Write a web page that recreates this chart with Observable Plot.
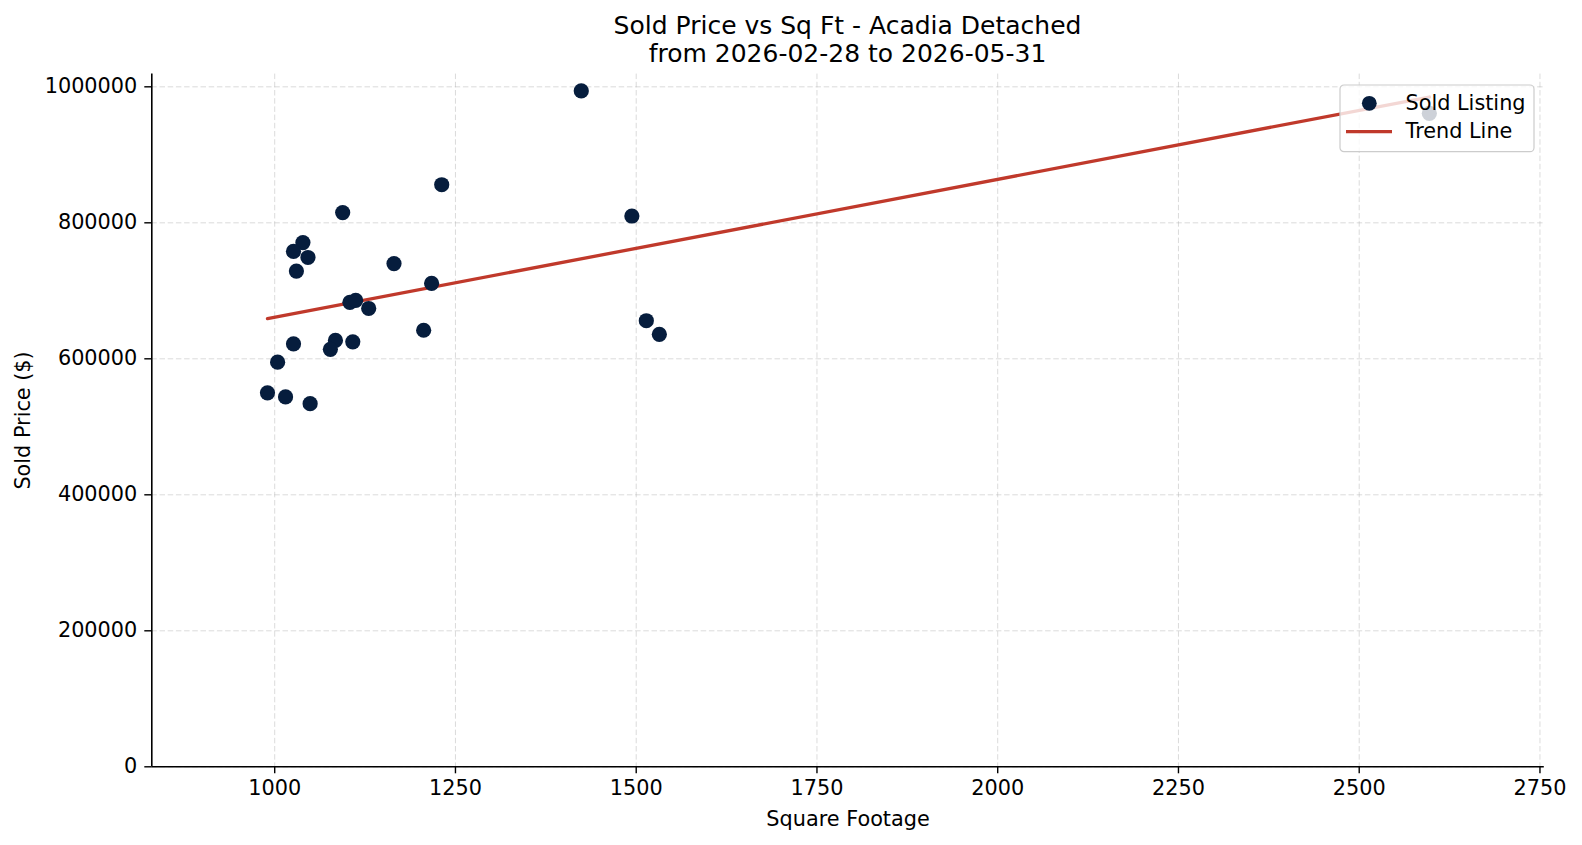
<!DOCTYPE html>
<html>
<head>
<meta charset="utf-8">
<script src="https://cdn.jsdelivr.net/npm/d3@7"></script>
<script src="https://cdn.jsdelivr.net/npm/@observablehq/plot@0.6"></script>
<style>
  body { margin: 0; background: #fff; font-family: "DejaVu Sans", sans-serif; }
  #wrap { position: relative; width: 1582px; height: 845px; overflow: hidden; }
  #title { position: absolute; left: 151px; width: 1393px; top: 11.6px; text-align: center;
           font-size: 25px; line-height: 28.2px; color: #000; }
  #legend { position: absolute; left: 1339px; top: 84px; }
</style>
</head>
<body>
<div id="wrap">
  <div id="chart"></div>
  <div id="title">Sold Price vs Sq Ft - Acadia Detached<br>from 2026-02-28 to 2026-05-31</div>
  <svg id="legend" width="198" height="70" xmlns="http://www.w3.org/2000/svg"></svg>
</div>
<script>
// ---- data ----
const sqft  = [1094, 1039, 1026, 1046, 1030, 1165, 1217, 1104, 1112, 1130, 1206, 1026, 1084,
               1077, 1108, 1004, 990, 1015, 1049, 1424, 1231, 1494, 1514, 1532, 2597];
const price = [815000, 771000, 758000, 749000, 729000, 740000, 711000, 683000, 686000, 674000,
               642000, 622000, 627000, 614000, 625000, 595000, 550000, 544000, 534000, 994000,
               856000, 810000, 656000, 636000, 961000];
const trendSqft  = [990, 2597];
const trendPrice = [659000, 985000];
const xTicks = [1000, 1250, 1500, 1750, 2000, 2250, 2500, 2750];
const yTicks = [0, 200000, 400000, 600000, 800000, 1000000];
const xDomain = [830, 2756];
const yDomain = [0, 1018700];
const seriesNames = ["Sold Listing", "Trend Line"];
const dotColor = "#061d3d";
const lineColor = "#c0392b";

const points = sqft.map((s, i) => ({sqft: s, price: price[i]}));
const trend = trendSqft.map((s, i) => ({sqft: s, price: trendPrice[i]}));

const fs = 20.8;
const gridStyle = {stroke: "#b0b0b0", strokeOpacity: 0.45, strokeWidth: 1, strokeDasharray: "5.5,2.7"};

const chart = Plot.plot({
  width: 1582,
  height: 845,
  marginLeft: 151.3,
  marginRight: 1582 - 1543.8,
  marginTop: 73.6,
  marginBottom: 845 - 766.3,
  style: {fontFamily: "DejaVu Sans", fontSize: fs + "px", color: "#000", background: "#fff"},
  x: {domain: xDomain},
  y: {domain: yDomain},
  marks: [
    Plot.gridX(xTicks, gridStyle),
    Plot.gridY(yTicks, gridStyle),
    Plot.axisX(xTicks, {tickSize: 7, tickPadding: 6, tickFormat: d => String(d), label: null,
                        fontSize: fs, stroke: "#000", strokeWidth: 1.4}),
    Plot.axisY(yTicks, {tickSize: 7, tickPadding: 7.5, tickFormat: d => String(d), label: null,
                        fontSize: fs, stroke: "#000", strokeWidth: 1.4}),
    Plot.ruleY([yDomain[0]], {stroke: "#000", strokeWidth: 1.6}),
    Plot.ruleX([xDomain[0]], {stroke: "#000", strokeWidth: 1.6}),
    Plot.line(trend, {x: "sqft", y: "price", stroke: lineColor, strokeWidth: 3.3}),
    Plot.dot(points, {x: "sqft", y: "price", r: 7.6, fill: dotColor, stroke: "none"}),
    Plot.text(["Square Footage"], {text: d => d, frameAnchor: "bottom", dy: 52.5,
                                   lineAnchor: "middle", textAnchor: "middle", fontSize: fs, fill: "#000"}),
    Plot.text(["Sold Price ($)"], {text: d => d, frameAnchor: "left", dx: -128, rotate: -90,
                                   lineAnchor: "middle", textAnchor: "middle", fontSize: fs, fill: "#000"})
  ]
});
document.getElementById("chart").appendChild(chart);

// ---- legend (semi-transparent box, like matplotlib) ----
const lg = d3.select("#legend");
lg.append("rect").attr("x", 1).attr("y", 1).attr("width", 194).attr("height", 66.7)
  .attr("rx", 4).attr("fill", "#fff").attr("fill-opacity", 0.8)
  .attr("stroke", "#cccccc").attr("stroke-width", 1.2);
lg.append("circle").attr("cx", 30.3).attr("cy", 19.3).attr("r", 7.4).attr("fill", dotColor);
lg.append("line").attr("x1", 7).attr("x2", 53).attr("y1", 47.7).attr("y2", 47.7)
  .attr("stroke", lineColor).attr("stroke-width", 3.3);
lg.selectAll("text.lab").data(seriesNames).join("text")
  .attr("class", "lab")
  .attr("x", 66.5)
  .attr("y", (d, i) => i === 0 ? 18.5 : 47)
  .attr("dy", "0.36em")
  .attr("font-family", "DejaVu Sans")
  .attr("font-size", fs)
  .attr("fill", "#000")
  .text(d => d);
</script>
</body>
</html>
